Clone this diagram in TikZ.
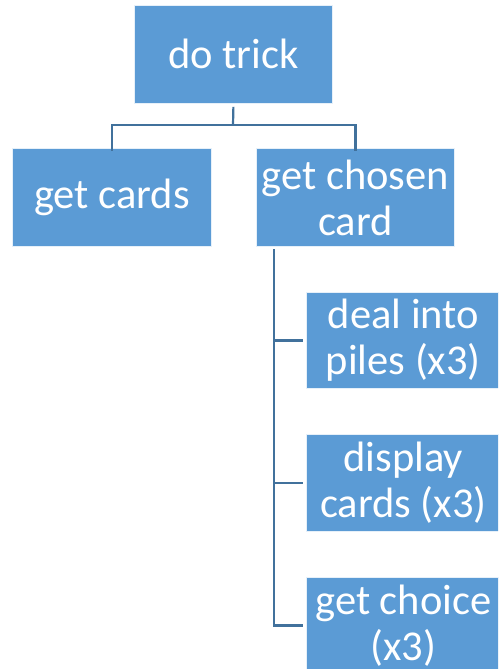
\documentclass[tikz,border=0pt]{standalone}
\usepackage{fontspec}
\setmainfont{Carlito}
\definecolor{boxfill}{HTML}{5B9BD5}
\definecolor{linecol}{HTML}{41719C}
\begin{document}
\begin{tikzpicture}[x=1pt,y=-1pt,
  box/.style={rectangle, fill=boxfill, draw=white!85!boxfill, line width=0.8pt, anchor=north west, inner sep=0pt,
    text=white, align=center, font=\fontsize{42.5}{46}\selectfont},
  conn/.style={draw=linecol, line width=2.2pt}]
\useasboundingbox (0,0) rectangle (498,669);
\begin{scope}
\clip (0,0) rectangle (498,669);
\node[box, minimum width=198pt, minimum height=98pt] (dotrick) at (134,5) {do trick};
\node[box, minimum width=199pt, minimum height=98pt] (getcards) at (12,148) {get cards};
\node[box, minimum width=198pt, minimum height=98pt] (chosen) at (256,148) {get chosen\\card};
\node[box, minimum width=194pt, minimum height=96pt] (deal) at (306,292) {deal into\\piles (x3)};
\node[box, minimum width=194pt, minimum height=97pt] (display) at (306,434) {display\\cards (x3)};
\node[box, minimum width=194pt, minimum height=96pt] (choice) at (306,577) {get choice\\(x3)};
\coordinate (hbar) at (233,125);
\coordinate (trunktop) at (274,249);
\draw[conn] (dotrick.south) ++(0,3) -- (hbar);
\draw[conn] (hbar) -| ([yshift=-3pt]getcards.north);
\draw[conn] (hbar) -| ([yshift=-3pt]chosen.north);
\draw[conn] (trunktop) |- ([xshift=-3pt]choice.west);
\draw[conn] (trunktop |- deal.west) -- ([xshift=-3pt]deal.west);
\draw[conn] (trunktop |- display.west) -- ([xshift=-3pt]display.west);
\end{scope}
\end{tikzpicture}
\end{document}
